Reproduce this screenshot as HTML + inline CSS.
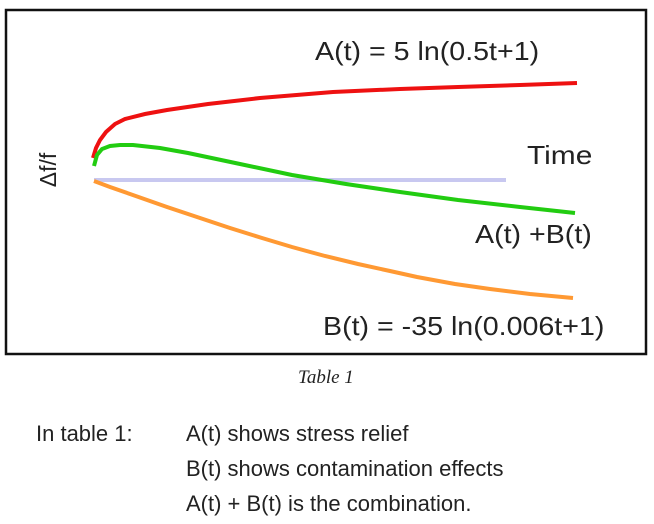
<!DOCTYPE html>
<html><head><meta charset="utf-8"><style>
html,body{margin:0;padding:0;background:#fff;width:654px;height:524px;overflow:hidden}
.t{position:absolute;font-family:"Liberation Sans",sans-serif;color:#222;white-space:nowrap;transform-origin:0 50%}
</style></head><body>
<svg width="654" height="524" style="position:absolute;left:0;top:0">
<rect x="6" y="10" width="640" height="344" fill="#fff" stroke="#111" stroke-width="2.5"/>
<line x1="94" y1="180" x2="506" y2="180" stroke="#c8c8f0" stroke-width="4"/>
<polyline fill="none" stroke="#ee1111" stroke-width="4" points="93,158 96,148 100,140 106,132 115,124 125,119 145,114 167,110 208,104 260,98 333,92 400,89 458,87 520,85 577,83"/>
<polyline fill="none" stroke="#22cc11" stroke-width="4" points="94,166 97,155 102,149 110,146 120,145 133,145 160,148 188,153 240,164 292,175 346,184 400,192 458,200 520,207 575,213"/>
<polyline fill="none" stroke="#ff9933" stroke-width="4" points="94,181 110,187 130,194 167,207 200,218 230,228 262,238 292,247 325,256 358,264 390,271 417,277 455,284 490,289 530,294 573,298"/>
<text x="48" y="170" transform="rotate(-90 48 170)" text-anchor="middle" dominant-baseline="central" font-family="Liberation Sans,sans-serif" font-size="23" fill="#222">Δf/f</text>
</svg>
<div class="t" style="left:315px;top:36px;font-size:26px;transform:scaleX(1.1)">A(t) = 5 ln(0.5t+1)</div>
<div class="t" style="left:527px;top:140px;font-size:26px;transform:scaleX(1.15)">Time</div>
<div class="t" style="left:475px;top:219px;font-size:26px;transform:scaleX(1.1)">A(t) +B(t)</div>
<div class="t" style="left:323px;top:311px;font-size:26px;transform:scaleX(1.1)">B(t) = -35 ln(0.006t+1)</div>
<div class="t" style="left:298px;top:367px;font-size:19px;font-family:'Liberation Serif',serif;font-style:italic">Table 1</div>
<div class="t" style="left:36px;top:421px;font-size:22px">In table 1:</div>
<div class="t" style="left:186px;top:421px;font-size:22px">A(t) shows stress relief</div>
<div class="t" style="left:186px;top:456px;font-size:22px">B(t) shows contamination effects</div>
<div class="t" style="left:186px;top:491px;font-size:22px">A(t) + B(t) is the combination.</div>
</body></html>
